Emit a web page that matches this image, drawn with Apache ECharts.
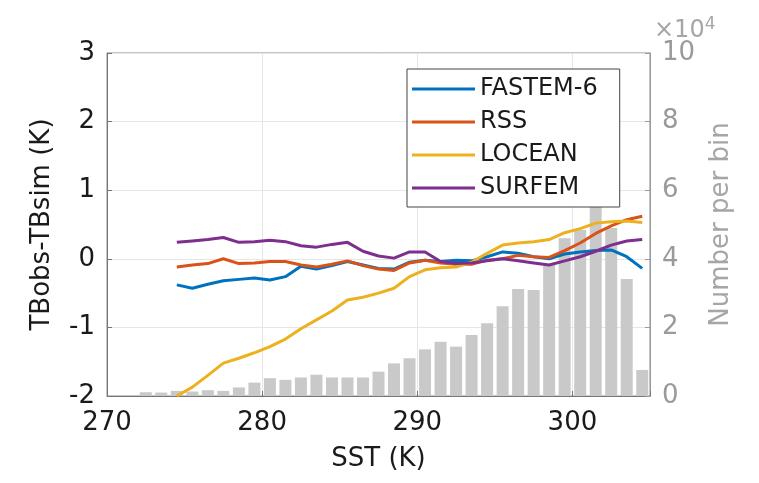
<!DOCTYPE html>
<html>
<head>
<meta charset="utf-8">
<script src="https://cdn.jsdelivr.net/npm/echarts@6/dist/echarts.min.js"></script>
<style>
	html, body { margin: 0; padding: 0; background: #fff; }
	#chart { width: 759px; height: 483px; }
</style>
</head>
<body>
<div id="chart"></div>
<script>
// SST (K) at which the model differences are given
var sst = [274.5, 275.5, 276.5, 277.5, 278.5, 279.5, 280.5, 281.5, 282.5, 283.5,
	284.5, 285.5, 286.5, 287.5, 288.5, 289.5, 290.5, 291.5, 292.5, 293.5,
	294.5, 295.5, 296.5, 297.5, 298.5, 299.5, 300.5, 301.5, 302.5, 303.5, 304.5];

// TBobs-TBsim (K) per model
var fastem6 = [-0.38, -0.43, -0.37, -0.32, -0.30, -0.28, -0.31, -0.26, -0.11, -0.15,
	-0.10, -0.04, -0.09, -0.14, -0.15, -0.05, -0.02, -0.04, -0.02, -0.03,
	0.03, 0.10, 0.08, 0.03, 0.00, 0.07, 0.10, 0.12, 0.13, 0.03, -0.14];
var rss = [-0.12, -0.09, -0.07, 0.00, -0.07, -0.06, -0.04, -0.04, -0.09, -0.12,
	-0.08, -0.03, -0.10, -0.15, -0.17, -0.06, -0.02, -0.06, -0.08, -0.08,
	-0.02, 0.00, 0.05, 0.03, 0.02, 0.12, 0.23, 0.37, 0.48, 0.57, 0.62];
var locean = [-2.00, -1.87, -1.70, -1.52, -1.45, -1.37, -1.28, -1.17, -1.02, -0.89,
	-0.76, -0.60, -0.56, -0.50, -0.43, -0.26, -0.16, -0.13, -0.12, -0.05,
	0.08, 0.20, 0.23, 0.25, 0.28, 0.38, 0.44, 0.52, 0.54, 0.55, 0.53];
var surfem = [0.24, 0.26, 0.28, 0.31, 0.24, 0.25, 0.27, 0.25, 0.19, 0.17,
	0.21, 0.24, 0.11, 0.04, 0.01, 0.10, 0.10, -0.04, -0.07, -0.06,
	-0.03, 0.00, -0.03, -0.06, -0.09, -0.03, 0.03, 0.11, 0.20, 0.26, 0.28];

// histogram: bin centres and number per bin
var binCenters = [272.5, 273.5, 274.5, 275.5, 276.5, 277.5, 278.5, 279.5, 280.5, 281.5,
	282.5, 283.5, 284.5, 285.5, 286.5, 287.5, 288.5, 289.5, 290.5, 291.5,
	292.5, 293.5, 294.5, 295.5, 296.5, 297.5, 298.5, 299.5, 300.5, 301.5,
	302.5, 303.5, 304.5];
var binCounts = [1100, 1000, 1500, 1300, 1700, 1500, 2500, 3900, 5200, 4700,
	5400, 6200, 5400, 5400, 5400, 7100, 9500, 11000, 13600, 15800,
	14400, 17800, 21200, 26200, 31200, 30900, 38500, 46000, 48400, 57000,
	49000, 34100, 7600];

var xTicks = [270, 280, 290, 300];
var leftTicks = [-2, -1, 0, 1, 2, 3];
var rightTicks = [0, 2, 4, 6, 8, 10];

var models = [
	{name: "FASTEM-6", data: fastem6, color: "#0072BD"},
	{name: "RSS", data: rss, color: "#D95319"},
	{name: "LOCEAN", data: locean, color: "#EDB120"},
	{name: "SURFEM", data: surfem, color: "#7E2F8E"}
];

var font = "DejaVu Sans";
var chart = echarts.init(document.getElementById("chart"));

var series = [];
series.push({
	name: "count",
	type: "bar",
	yAxisIndex: 1,
	barWidth: 12,
	itemStyle: { color: "#c9c9c9" },
	silent: true,
	z: 1,
	data: binCenters.map(function(x, i) {
		return [x, binCounts[i]];
	})
});
models.forEach(function(m) {
	series.push({
		name: m.name,
		type: "line",
		symbol: "none",
		z: 3,
		lineStyle: { color: m.color, width: 3 },
		itemStyle: { color: m.color },
		data: sst.map(function(x, i) {
			return [x, m.data[i]];
		})
	});
});

var option = {
	animation: false,
	backgroundColor: "#fff",
	grid: {
		left: 107,
		right: 109,
		top: 53,
		bottom: 87,
		show: true,
		borderColor: "#8a8a8a",
		borderWidth: 1,
		backgroundColor: "transparent"
	},
	legend: {
		orient: "vertical",
		left: 407,
		top: 69,
		data: models.map(function(m) { return m.name; }),
		icon: "rect",
		backgroundColor: "#fff",
		borderColor: "#444",
		borderWidth: 1,
		borderRadius: 0,
		padding: [8, 22, 7, 5],
		itemWidth: 63,
		itemHeight: 3,
		itemGap: 9,
		z: 10,
		textStyle: { fontFamily: font, fontSize: 24, color: "#1a1a1a", lineHeight: 24 }
	},
	xAxis: {
		type: "value",
		min: 270,
		max: 305,
		interval: 10,
		name: "SST (K)",
		nameLocation: "middle",
		nameGap: 50,
		nameTextStyle: { fontFamily: font, fontSize: 26, color: "#1a1a1a" },
		axisLine: { show: true, onZero: false, lineStyle: { color: "#777" } },
		axisTick: { inside: true, length: 5, lineStyle: { color: "#777" } },
		axisLabel: {
			fontFamily: font, fontSize: 26, color: "#1a1a1a", margin: 14,
			formatter: function(v) {
				return xTicks.indexOf(v) >= 0 ? String(v) : "";
			}
		},
		splitLine: { show: true, lineStyle: { color: "#e6e6e6" } }
	},
	yAxis: [{
		type: "value",
		min: -2,
		max: 3,
		interval: 1,
		name: "TBobs-TBsim (K)",
		nameLocation: "middle",
		nameGap: 52,
		nameTextStyle: { fontFamily: font, fontSize: 26, color: "#1a1a1a" },
		axisLine: { show: true, onZero: false, lineStyle: { color: "#777" } },
		axisTick: { show: true, inside: true, length: 5, lineStyle: { color: "#777" } },
		axisLabel: {
			fontFamily: font, fontSize: 26, color: "#1a1a1a", margin: 12,
			formatter: function(v) {
				return leftTicks.indexOf(v) >= 0 ? String(v) : "";
			}
		},
		splitLine: { show: true, lineStyle: { color: "#e6e6e6" } }
	}, {
		type: "value",
		position: "right",
		min: 0,
		max: 100000,
		interval: 20000,
		name: "Number per bin",
		nameLocation: "middle",
		nameRotate: 90,
		nameGap: 58,
		nameTextStyle: { fontFamily: font, fontSize: 26, color: "#a6a6a6" },
		axisLine: { show: true, onZero: false, lineStyle: { color: "#9a9a9a" } },
		axisTick: { show: true, inside: true, length: 5, lineStyle: { color: "#9a9a9a" } },
		axisLabel: {
			fontFamily: font, fontSize: 26, color: "#9a9a9a", margin: 12,
			formatter: function(v) {
				var t = v / 10000;
				return rightTicks.indexOf(t) >= 0 ? String(t) : "";
			}
		},
		splitLine: { show: false }
	}],
	graphic: [{
		type: "text",
		left: 654,
		top: 16,
		style: {
			text: "×10{s|4}",
			fontFamily: font,
			fontSize: 24,
			fill: "#a6a6a6",
			rich: {
				s: { fontFamily: font, fontSize: 17, fill: "#a6a6a6", verticalAlign: "top", padding: [0, 0, 12, 0] }
			}
		}
	}],
	series: series
};

chart.setOption(option);
</script>
</body>
</html>
